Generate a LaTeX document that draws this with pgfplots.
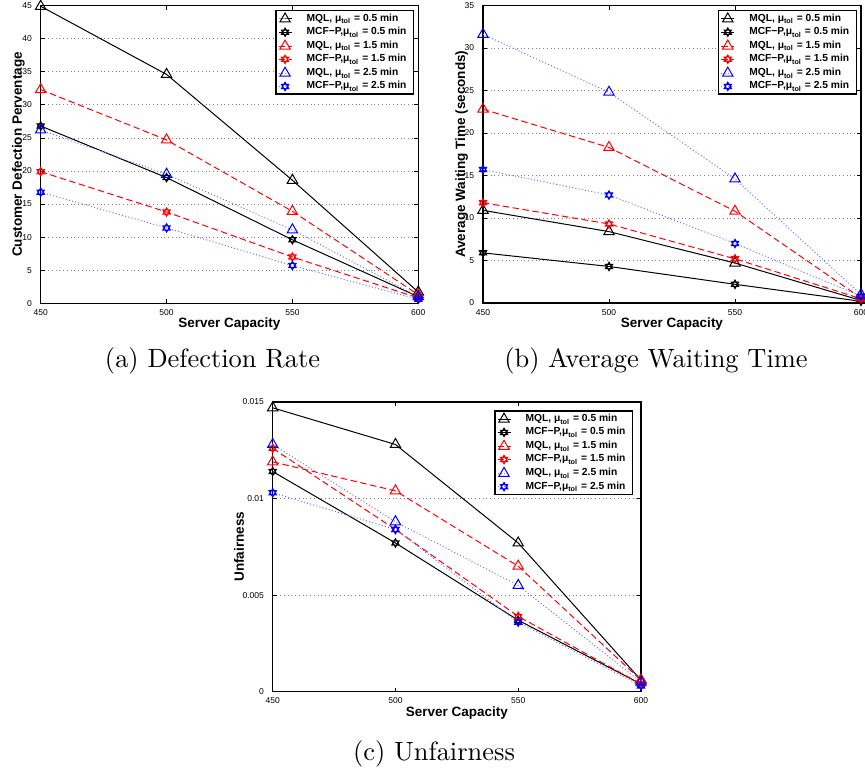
\documentclass[border=0pt]{standalone}
\usepackage{fontspec}
\usepackage{pgfplots}
\pgfplotsset{compat=1.18}
\newfontfamily\hv{Liberation Sans}
\definecolor{mlblue}{RGB}{110,110,255}

\pgfdeclareplotmark{hexagram}{%
  \pgfpathmoveto{\pgfqpointpolar{90}{\pgfplotmarksize}}%
  \pgfpathlineto{\pgfqpointpolar{210}{\pgfplotmarksize}}%
  \pgfpathlineto{\pgfqpointpolar{330}{\pgfplotmarksize}}%
  \pgfpathclose
  \pgfpathmoveto{\pgfqpointpolar{270}{\pgfplotmarksize}}%
  \pgfpathlineto{\pgfqpointpolar{30}{\pgfplotmarksize}}%
  \pgfpathlineto{\pgfqpointpolar{150}{\pgfplotmarksize}}%
  \pgfpathclose
  \pgfusepathqstroke}

\pgfplotsset{
  myax/.style={
    scale only axis,
    anchor=south west,
    xmin=450, xmax=600, ymin=0,
    xtick={450,500,550,600},
    tick align=inside,
    major tick length=1.6pt,
    ymajorgrids,
    major grid style={gray, line width=0.3pt, dash pattern=on 0.3pt off 1.2pt},
    axis line style={line width=0.6pt},
    every tick/.style={black, line width=0.3pt},
    /pgf/number format/assume math mode=true,
    ticklabel style={font=\hv\fontsize{3.4}{4}\selectfont},
    xticklabel style={yshift=1.1pt},
    label style={font=\hv\bfseries\fontsize{5.4}{6}\selectfont},
    xlabel={Server Capacity},
    legend cell align=left,
    legend style={font=\hv\bfseries\fontsize{4.1}{5.33}\selectfont,
      at={(1,1)}, anchor=north east, xshift=-1.7pt, yshift=-1.8pt,
      draw=black, line width=0.5pt, inner xsep=0.8pt, inner ysep=0.9pt,
      nodes={inner ysep=0pt, text height=3.1pt, text depth=1.2pt},
      row sep=1.0pt,
      /tikz/every odd column/.append style={column sep=3.8pt}},
    legend image code/.code={\draw[mark repeat=2,mark phase=2] plot coordinates {(0pt,0pt) (2.6pt,0pt) (5.2pt,0pt)};},
    legend entries={{MQL, μ\textsubscript{tol} = 0.5 min},
          {MCF−P,μ\textsubscript{tol} = 0.5 min},
          {MQL, μ\textsubscript{tol} = 1.5 min},
          {MCF−P,μ\textsubscript{tol} = 1.5 min},
          {MQL, μ\textsubscript{tol} = 2.5 min},
          {MCF−P,μ\textsubscript{tol} = 2.5 min}},
  },
  s1/.style={black, line width=0.4pt, solid, mark=triangle, mark size=2.4pt, mark options={solid}},
  s2/.style={black, line width=0.4pt, solid, mark=hexagram, mark size=1.7pt, mark options={solid}},
  s3/.style={red, line width=0.4pt, dash pattern=on 2.6pt off 1.4pt, mark=triangle, mark size=2.4pt, mark options={solid, red}},
  s4/.style={red, line width=0.4pt, dash pattern=on 2.6pt off 1.4pt, mark=hexagram, mark size=1.7pt, mark options={solid, red}},
  s5/.style={mlblue, line width=0.4pt, dash pattern=on 0.4pt off 0.9pt, mark=triangle, mark size=2.4pt, mark options={solid, blue}},
  s6/.style={mlblue, line width=0.4pt, dash pattern=on 0.4pt off 0.9pt, mark=hexagram, mark size=1.7pt, mark options={solid, blue}},
}

\begin{document}
\begin{tikzpicture}
\useasboundingbox (0,0) rectangle (346pt,-308pt);

% (a)
\begin{axis}[myax, at={(16.28pt,-121.32pt)}, width=151.04pt, height=119.08pt,
  ymax=45, ytick={0,5,...,45},
  ylabel={Customer Defection Perventage},
  ylabel style={at={(axis description cs:-0.0593,0.5)}, anchor=center},
  xlabel style={at={(axis description cs:0.5,-0.0705)}, anchor=center}]
\addplot[s1] coordinates {(450,44.9) (500,34.6) (550,18.6) (600,1.7)};
\addplot[s2] coordinates {(450,26.8) (500,19.0) (550,9.6) (600,1.0)};
\addplot[s3] coordinates {(450,32.3) (500,24.7) (550,13.9) (600,1.3)};
\addplot[s4] coordinates {(450,19.9) (500,13.8) (550,7.0) (600,0.8)};
\addplot[s5] coordinates {(450,26.2) (500,19.5) (550,11.1) (600,1.0)};
\addplot[s6] coordinates {(450,16.8) (500,11.4) (550,5.7) (600,0.6)};
\end{axis}

% (b)
\begin{axis}[myax, at={(193.2pt,-121.2pt)}, width=151.2pt, height=119.0pt,
  ymax=35, ytick={0,5,...,35},
  ylabel={Average Waiting Time (seconds)},
  ylabel style={at={(axis description cs:-0.0563,0.5)}, anchor=center},
  xlabel style={at={(axis description cs:0.5,-0.0705)}, anchor=center}]
\addplot[s1] coordinates {(450,10.9) (500,8.4) (550,4.7) (600,0.3)};
\addplot[s2] coordinates {(450,5.9) (500,4.3) (550,2.2) (600,0.2)};
\addplot[s3] coordinates {(450,22.8) (500,18.3) (550,10.8) (600,0.6)};
\addplot[s4] coordinates {(450,11.8) (500,9.3) (550,5.2) (600,0.5)};
\addplot[s5] coordinates {(450,31.6) (500,24.8) (550,14.6) (600,1.0)};
\addplot[s6] coordinates {(450,15.7) (500,12.7) (550,7.0) (600,0.8)};
\end{axis}

% (c)
\begin{axis}[myax, at={(109.08pt,-276.68pt)}, width=147.32pt, height=115.88pt,
  ymax=0.015, ytick={0,0.005,0.01,0.015},
  scaled y ticks=false,
  yticklabel style={/pgf/number format/fixed, /pgf/number format/precision=3},
  ylabel={Unfairness},
  ylabel style={at={(axis description cs:-0.0915,0.5)}, anchor=center},
  xlabel style={at={(axis description cs:0.5,-0.0725)}, anchor=center},
  legend style={xshift=-1.5pt, yshift=-1.5pt}]
\addplot[s1] coordinates {(450,0.0147) (500,0.0128) (550,0.0077) (600,0.0006)};
\addplot[s2] coordinates {(450,0.0114) (500,0.0077) (550,0.0037) (600,0.0004)};
\addplot[s3] coordinates {(450,0.0119) (500,0.0104) (550,0.0065) (600,0.0006)};
\addplot[s4] coordinates {(450,0.0126) (500,0.0084) (550,0.0039) (600,0.0004)};
\addplot[s5] coordinates {(450,0.0128) (500,0.0088) (550,0.0055) (600,0.0005)};
\addplot[s6] coordinates {(450,0.0103) (500,0.0084) (550,0.0036) (600,0.0003)};
\end{axis}

\node[anchor=base, font=\fontsize{10.57}{12}\selectfont] at (85pt,-146.8pt) {(a) Defection Rate};
\node[anchor=base, font=\fontsize{10.57}{12}\selectfont] at (262.4pt,-146.8pt) {(b) Average Waiting Time};
\node[anchor=base, font=\fontsize{10.57}{12}\selectfont] at (173.6pt,-304pt) {(c) Unfairness};
\end{tikzpicture}
\end{document}
